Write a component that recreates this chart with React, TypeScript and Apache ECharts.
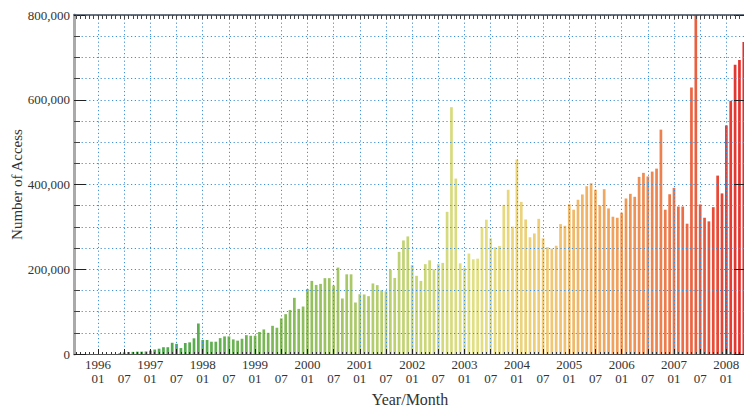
import React, { useEffect, useRef } from "react";
import * as echarts from "echarts";

// Monthly access counts
const v1995 = [0, 0, 0, 0, 0]; // Aug–Dec
const v1996 = [0, 0, 0, 0, 0, 2000, 4000, 4500, 5000, 5500, 5500, 6000];
const v1997 = [8000, 10500, 12500, 16000, 16000, 26500, 24000, 14000, 26000, 27500, 37000, 72000];
const v1998 = [33000, 33000, 29000, 29000, 37500, 41500, 41500, 34500, 31500, 36000, 44500, 43000];
const v1999 = [43000, 52000, 58000, 50000, 66500, 62000, 84000, 94000, 104000, 132500, 106500, 112000];
const v2000 = [153500, 172500, 163000, 165500, 179000, 179000, 161500, 204000, 131000, 188000, 188000, 121500];
const v2001 = [141000, 140500, 136500, 166500, 162500, 150500, 148000, 199000, 179500, 241000, 268000, 277500];
const v2002 = [209500, 184500, 172500, 212000, 221000, 200000, 212000, 215000, 335500, 582500, 414000, 214000];
const v2003 = [204000, 237000, 223500, 225000, 299500, 317000, 273000, 252000, 255000, 352000, 387500, 300500];
const v2004 = [459000, 359000, 317500, 275500, 284500, 319000, 273000, 252000, 248500, 255500, 306500, 302500];
const v2005 = [353500, 340500, 364000, 376500, 396000, 403000, 387500, 350500, 389000, 343500, 324000, 321500];
const v2006 = [333500, 367000, 378000, 371000, 418000, 427500, 419000, 430500, 437500, 529500, 340500, 377000];
const v2007 = [392000, 348000, 348000, 307500, 629000, 880000, 353000, 321500, 313000, 346500, 421000, 379000];
const v2008 = [539500, 597500, 682500, 694000, 736500]; // Jan–May

const yearBlocks: [number, number, number[]][] = [
  [1995, 8, v1995],
  [1996, 1, v1996],
  [1997, 1, v1997],
  [1998, 1, v1998],
  [1999, 1, v1999],
  [2000, 1, v2000],
  [2001, 1, v2001],
  [2002, 1, v2002],
  [2003, 1, v2003],
  [2004, 1, v2004],
  [2005, 1, v2005],
  [2006, 1, v2006],
  [2007, 1, v2007],
  [2008, 1, v2008],
];

const categories: string[] = [];
const values: number[] = [];
yearBlocks.forEach(([y, start, arr]) => {
  arr.forEach((v, i) => {
    const mo = start + i;
    categories.push(`${y}/${mo < 10 ? "0" + mo : mo}`);
    values.push(v);
  });
});

const yTickMax = 800000;
const yTickStep = 200000;

const FONT = "Liberation Serif";
const GRID_COLOR = "#3f90d4";
const colorStops = [
  "#3c9c48",
  "#4aa64c",
  "#5eae50",
  "#80b858",
  "#a6c666",
  "#c4d474",
  "#e2e082",
  "#f0cc78",
  "#f0a45e",
  "#ec7448",
  "#e32e2c",
];

const halfYear = (_i: number, v: string) => v.endsWith("/01") || v.endsWith("/07");

export default function App() {
  const ref = useRef<HTMLDivElement>(null);
  useEffect(() => {
    if (!ref.current) return;
    const chart = echarts.init(ref.current, null, { renderer: "svg" });
    const dotted = { color: GRID_COLOR, width: 1, type: [1.2, 2.6] as number[] };
    chart.setOption({
      animation: false,
      backgroundColor: "#fff",
      textStyle: { fontFamily: FONT },
      grid: {
        left: 74,
        top: 15,
        height: 339,
        right: -2,
        containLabel: false,
        outerBoundsMode: "none",
      },
      visualMap: {
        show: false,
        type: "continuous",
        dimension: 0,
        min: 0,
        max: categories.length - 1,
        inRange: { color: colorStops },
        seriesIndex: 0,
      },
      xAxis: [
        {
          type: "category",
          data: categories,
          position: "bottom",
          boundaryGap: true,
          z: 3,
          axisLine: { show: true, lineStyle: { color: "#555", width: 1 } },
          axisTick: {
            show: true,
            inside: true,
            alignWithLabel: true,
            interval: 0,
            length: 2,
            lineStyle: { color: "#333" },
          },
          axisLabel: {
            interval: halfYear,
            formatter: (v: string) => {
              const [y, mo] = v.split("/");
              return mo === "01" ? `${y}\n01` : `\n${mo}`;
            },
            fontFamily: FONT,
            fontSize: 13,
            lineHeight: 14,
            color: "#333",
            margin: 3,
          },
          splitLine: {
            show: true,
            alignWithLabel: true,
            interval: halfYear,
            lineStyle: dotted,
          },
          name: "Year/Month",
          nameLocation: "middle",
          nameGap: 37,
          nameMoveOverlap: false,
          nameTextStyle: { fontFamily: FONT, fontSize: 16, color: "#333" },
        },
        {
          type: "category",
          data: categories,
          position: "bottom",
          z: 3,
          axisLine: { show: false },
          axisTick: {
            show: true,
            inside: true,
            alignWithLabel: true,
            interval: halfYear,
            length: 5,
            lineStyle: { color: "#222" },
          },
          axisLabel: { show: false },
          splitLine: { show: false },
        },
        {
          type: "category",
          data: categories,
          position: "top",
          z: 3,
          axisLine: { show: true, lineStyle: { color: "#3b4a5a", width: 1.5 } },
          axisTick: {
            show: true,
            inside: true,
            alignWithLabel: true,
            interval: 0,
            length: 4,
            lineStyle: { color: "#444" },
          },
          axisLabel: { show: false },
          splitLine: { show: false },
        },
      ],
      yAxis: [
        {
          type: "value",
          min: 0,
          max: yTickMax,
          interval: yTickStep,
          position: "left",
          z: 3,
          axisLine: { show: true, lineStyle: { color: "#aaa", width: 3 } },
          axisTick: { show: true, inside: true, length: 12, lineStyle: { color: "#222" } },
          minorTick: { show: true, splitNumber: 4, length: 6, lineStyle: { color: "#444" } },
          splitLine: { show: true, lineStyle: dotted },
          minorSplitLine: { show: true, lineStyle: dotted },
          axisLabel: {
            formatter: (v: number) => v.toLocaleString("en-US"),
            fontFamily: FONT,
            fontSize: 13,
            color: "#333",
            margin: 4,
          },
          name: "Number of Access",
          nameLocation: "middle",
          nameGap: 50,
          nameMoveOverlap: false,
          nameTextStyle: { fontFamily: FONT, fontSize: 15, color: "#333" },
        },
        {
          type: "value",
          min: 0,
          max: yTickMax,
          interval: yTickStep,
          position: "right",
          z: 3,
          axisLine: { show: true, lineStyle: { color: "#aaa", width: 3 } },
          axisTick: { show: true, inside: true, length: 12, lineStyle: { color: "#222" } },
          axisLabel: { show: false },
          splitLine: { show: false },
        },
      ],
      series: [
        {
          type: "bar",
          xAxisIndex: 0,
          yAxisIndex: 0,
          data: values.map((v, i) => [i, v]),
          barWidth: "62%",
          clip: true,
          z: 2,
        },
      ],
    });
    return () => chart.dispose();
  }, []);
  return (
    <div
      ref={ref}
      style={{ position: "fixed", left: 0, top: 0, width: 744, height: 408, background: "#fff" }}
    />
  );
}
